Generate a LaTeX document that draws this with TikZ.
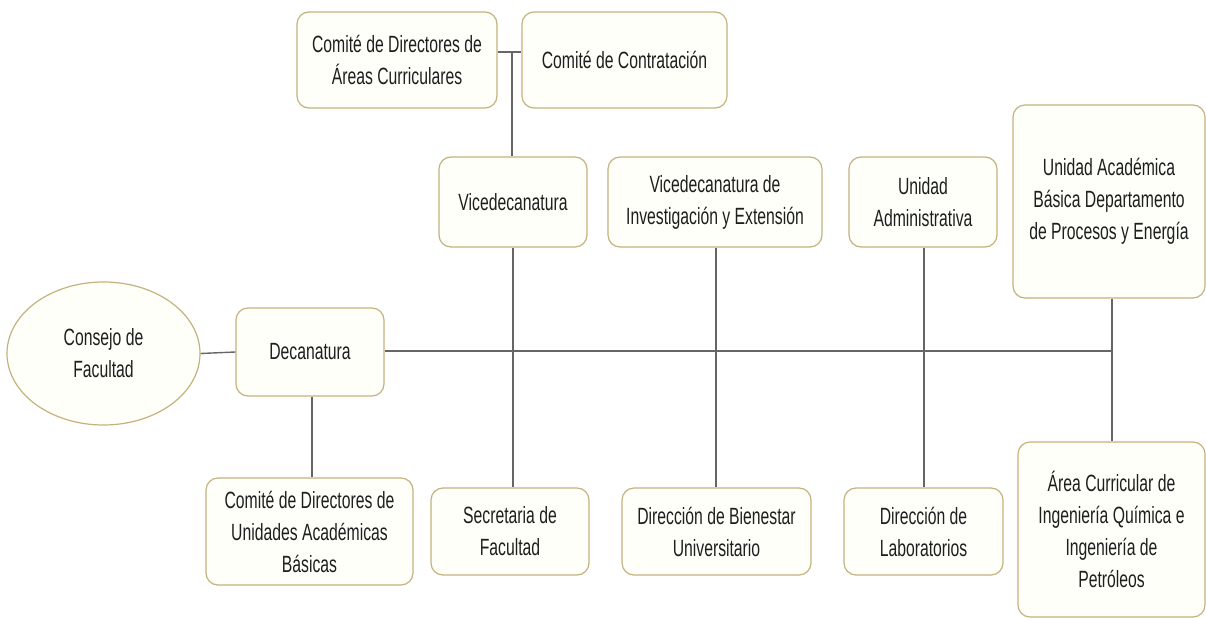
\documentclass[tikz,border=0pt]{standalone}
\usepackage{fontspec}
\setmainfont[FakeStretch=0.67]{Liberation Sans}
\usetikzlibrary{shapes.geometric,calc}
\definecolor{boxborder}{HTML}{C4B27E}
\definecolor{boxfill}{HTML}{FFFFFA}
\definecolor{linecol}{HTML}{666666}
\definecolor{txt}{HTML}{1E1E1E}
\tikzset{
  orgbox/.style={draw=boxborder, fill=boxfill, line width=1.2pt, rounded corners=12pt,
    align=center, text=txt, inner sep=2pt, font=\fontsize{23.5pt}{32pt}\selectfont},
  orgell/.style={ellipse, draw=boxborder, fill=boxfill, line width=1.2pt,
    align=center, text=txt, inner sep=0pt, font=\fontsize{23.5pt}{32pt}\selectfont},
  conn/.style={draw=linecol, line width=1.4pt}
}
\begin{document}
\begin{tikzpicture}[x=1pt,y=-1pt]
\useasboundingbox[fill=white] (0,0) rectangle (1206,620);
% top committees
\node[orgbox, minimum width=200pt, minimum height=96pt] (cda) at (397,60) {Comité de Directores de\\Áreas Curriculares};
\node[orgbox, minimum width=205pt, minimum height=96pt] (cc) at (624.5,60) {Comité de Contratación};
% second row
\node[orgbox, minimum width=148pt, minimum height=90pt] (vd) at (513,202) {Vicedecanatura};
\node[orgbox, minimum width=214pt, minimum height=90pt] (vie) at (715,202) {Vicedecanatura de\\Investigación y Extensión};
\node[orgbox, minimum width=148pt, minimum height=90pt] (ua) at (923,202) {Unidad\\Administrativa};
\node[orgbox, minimum width=192pt, minimum height=193pt] (uab) at (1109,201.5) {Unidad Académica\\Básica Departamento\\de Procesos y Energía};
% middle row
\node[orgell, minimum width=193pt, minimum height=143pt] (cf) at (103.5,353.5) {Consejo de\\Facultad};
\node[orgbox, minimum width=148pt, minimum height=88pt] (dec) at (310,352) {Decanatura};
% bottom row
\node[orgbox, minimum width=207pt, minimum height=107pt] (cdu) at (309.5,531.5) {Comité de Directores de\\Unidades Académicas\\Básicas};
\node[orgbox, minimum width=158pt, minimum height=87pt] (sf) at (510,531.5) {Secretaria de\\Facultad};
\node[orgbox, minimum width=189pt, minimum height=87pt] (dbu) at (716.5,531.5) {Dirección de Bienestar\\Universitario};
\node[orgbox, minimum width=159pt, minimum height=87pt] (dl) at (923.5,531.5) {Dirección de\\Laboratorios};
\node[orgbox, minimum width=187pt, minimum height=175pt] (acq) at (1111.5,529.5) {Área Curricular de\\Ingeniería Química e\\Ingeniería de\\Petróleos};
% connectors
\coordinate (j1) at (512,52);
\coordinate (hub) at (1112,351);
\draw[conn] (cda.east |- j1) -- (cc.west |- j1);
\draw[conn] (j1) -- (j1 |- vd.north);
\draw[conn] (cf.east) -- (dec.west);
\draw[conn] (dec.east |- hub) -- (hub);
\draw[conn] (vd.south) -- (vd.south |- sf.north);
\draw[conn] (vie.south -| 716,0) -- (716,0 |- dbu.north);
\draw[conn] (ua.south -| 924,0) -- (924,0 |- dl.north);
\draw[conn] (uab.south -| hub) -- (hub |- acq.north);
\draw[conn] (dec.south -| 312,0) -- (312,0 |- cdu.north);
\end{tikzpicture}
\end{document}
